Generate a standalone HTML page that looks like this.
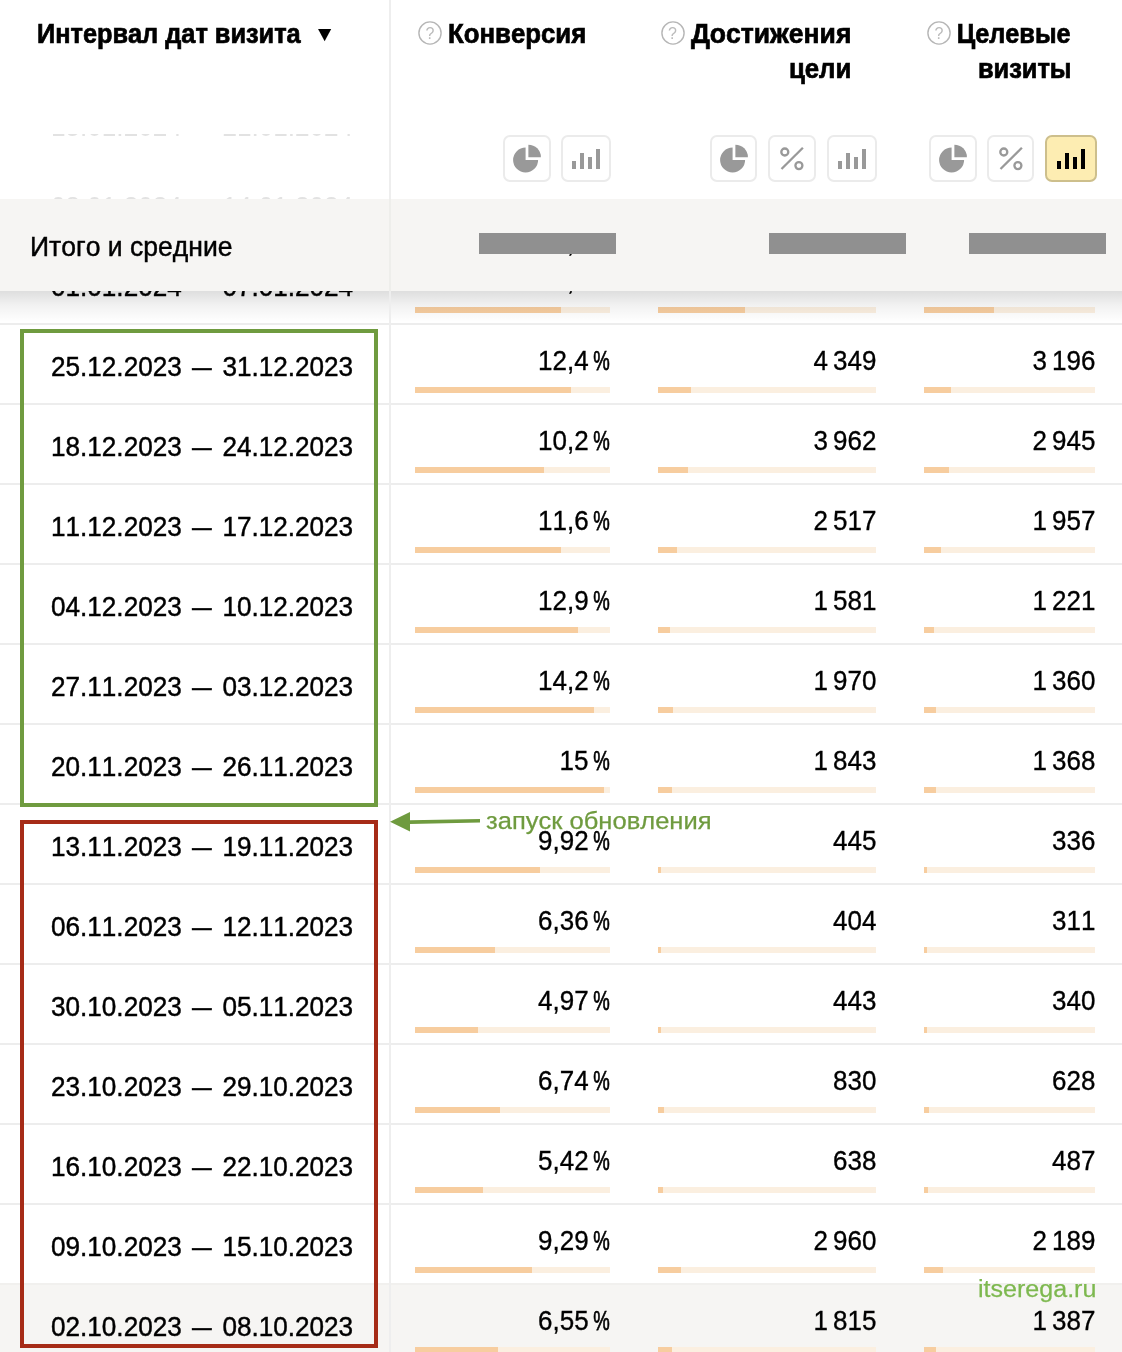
<!DOCTYPE html>
<html lang="ru"><head><meta charset="utf-8"><title>Интервал дат визита</title>
<style>
html,body{margin:0;padding:0;background:#fff;}
body{font-kerning:none;width:1122px;height:1352px;position:relative;overflow:hidden;font-family:"Liberation Sans",sans-serif;color:#000;}
.abs{position:absolute;}
.row{position:absolute;left:0;width:1122px;height:80px;}
.row .ln{position:absolute;left:0;top:-1px;width:1122px;height:2px;background:#ededed;}
.d{position:absolute;left:51.3px;top:28.4px;font-size:27.3px;line-height:30px;white-space:nowrap;transform:scaleX(.957);transform-origin:0 50%;-webkit-text-stroke:.45px #000;}
.d b{display:inline-block;font-weight:normal;transform:scaleX(.755);}
.n{position:absolute;top:21.9px;font-size:27.8px;line-height:30px;white-space:nowrap;text-align:right;transform:scaleX(.935);transform-origin:100% 50%;-webkit-text-stroke:.35px #000;}
.n1{right:511.7px;}.n2{right:246px;}.n3{right:27px;}
.pc{display:inline-block;width:18.2px;margin-left:5.3px;}
.pc i{display:inline-block;font-style:normal;transform:scaleX(.714);transform-origin:0 50%;-webkit-text-stroke:.75px #000;}
.b{position:absolute;top:63px;height:6px;background:#fbefe0;}
.b i{position:absolute;left:0;top:0;height:6px;background:#f7cd9f;}
.b1{left:415px;width:195px;}.b2{left:658px;width:218px;}.b3{left:924px;width:171px;}
.hov{background:#f6f5f3;}.hov .ln{background:#f1f0ee;}
.vline{position:absolute;left:389px;top:0;width:2px;height:1352px;background:#eeeeee;}
.h{position:absolute;font-weight:bold;font-size:27px;line-height:36px;white-space:nowrap;-webkit-text-stroke:.7px #000;}
.q{position:absolute;width:24px;height:24px;color:#bbb;font-size:16px;line-height:26px;text-align:center;}
.q svg{position:absolute;left:0;top:0;}
.btn{position:absolute;top:135px;height:43px;border:2px solid #ebebeb;border-radius:7px;background:#fff;}
.btn svg{position:absolute;left:0;top:0;}
.btn.act{background:#fdedb2;border-color:#cdbf8c;}
</style></head><body>
<div class="row" style="top:324px"><div class="ln"></div><div class="d">25.12.2023 <b>—</b> 31.12.2023</div><div class="n n1">12,4<span class="pc"><i>%</i></span></div><div class="b b1"><i style="width:156px"></i></div><div class="n n2">4 349</div><div class="b b2"><i style="width:33px"></i></div><div class="n n3">3 196</div><div class="b b3"><i style="width:27px"></i></div></div>
<div class="row" style="top:404px"><div class="ln"></div><div class="d">18.12.2023 <b>—</b> 24.12.2023</div><div class="n n1">10,2<span class="pc"><i>%</i></span></div><div class="b b1"><i style="width:129px"></i></div><div class="n n2">3 962</div><div class="b b2"><i style="width:30px"></i></div><div class="n n3">2 945</div><div class="b b3"><i style="width:25px"></i></div></div>
<div class="row" style="top:484px"><div class="ln"></div><div class="d">11.12.2023 <b>—</b> 17.12.2023</div><div class="n n1">11,6<span class="pc"><i>%</i></span></div><div class="b b1"><i style="width:146px"></i></div><div class="n n2">2 517</div><div class="b b2"><i style="width:19px"></i></div><div class="n n3">1 957</div><div class="b b3"><i style="width:17px"></i></div></div>
<div class="row" style="top:564px"><div class="ln"></div><div class="d">04.12.2023 <b>—</b> 10.12.2023</div><div class="n n1">12,9<span class="pc"><i>%</i></span></div><div class="b b1"><i style="width:163px"></i></div><div class="n n2">1 581</div><div class="b b2"><i style="width:12px"></i></div><div class="n n3">1 221</div><div class="b b3"><i style="width:10px"></i></div></div>
<div class="row" style="top:644px"><div class="ln"></div><div class="d">27.11.2023 <b>—</b> 03.12.2023</div><div class="n n1">14,2<span class="pc"><i>%</i></span></div><div class="b b1"><i style="width:179px"></i></div><div class="n n2">1 970</div><div class="b b2"><i style="width:15px"></i></div><div class="n n3">1 360</div><div class="b b3"><i style="width:12px"></i></div></div>
<div class="row" style="top:724px"><div class="ln"></div><div class="d">20.11.2023 <b>—</b> 26.11.2023</div><div class="n n1">15<span class="pc"><i>%</i></span></div><div class="b b1"><i style="width:189px"></i></div><div class="n n2">1 843</div><div class="b b2"><i style="width:14px"></i></div><div class="n n3">1 368</div><div class="b b3"><i style="width:12px"></i></div></div>
<div class="row" style="top:804px"><div class="ln"></div><div class="d">13.11.2023 <b>—</b> 19.11.2023</div><div class="n n1">9,92<span class="pc"><i>%</i></span></div><div class="b b1"><i style="width:125px"></i></div><div class="n n2">445</div><div class="b b2"><i style="width:3px"></i></div><div class="n n3">336</div><div class="b b3"><i style="width:3px"></i></div></div>
<div class="row" style="top:884px"><div class="ln"></div><div class="d">06.11.2023 <b>—</b> 12.11.2023</div><div class="n n1">6,36<span class="pc"><i>%</i></span></div><div class="b b1"><i style="width:80px"></i></div><div class="n n2">404</div><div class="b b2"><i style="width:3px"></i></div><div class="n n3">311</div><div class="b b3"><i style="width:3px"></i></div></div>
<div class="row" style="top:964px"><div class="ln"></div><div class="d">30.10.2023 <b>—</b> 05.11.2023</div><div class="n n1">4,97<span class="pc"><i>%</i></span></div><div class="b b1"><i style="width:63px"></i></div><div class="n n2">443</div><div class="b b2"><i style="width:3px"></i></div><div class="n n3">340</div><div class="b b3"><i style="width:3px"></i></div></div>
<div class="row" style="top:1044px"><div class="ln"></div><div class="d">23.10.2023 <b>—</b> 29.10.2023</div><div class="n n1">6,74<span class="pc"><i>%</i></span></div><div class="b b1"><i style="width:85px"></i></div><div class="n n2">830</div><div class="b b2"><i style="width:6px"></i></div><div class="n n3">628</div><div class="b b3"><i style="width:5px"></i></div></div>
<div class="row" style="top:1124px"><div class="ln"></div><div class="d">16.10.2023 <b>—</b> 22.10.2023</div><div class="n n1">5,42<span class="pc"><i>%</i></span></div><div class="b b1"><i style="width:68px"></i></div><div class="n n2">638</div><div class="b b2"><i style="width:5px"></i></div><div class="n n3">487</div><div class="b b3"><i style="width:4px"></i></div></div>
<div class="row" style="top:1204px"><div class="ln"></div><div class="d">09.10.2023 <b>—</b> 15.10.2023</div><div class="n n1">9,29<span class="pc"><i>%</i></span></div><div class="b b1"><i style="width:117px"></i></div><div class="n n2">2 960</div><div class="b b2"><i style="width:23px"></i></div><div class="n n3">2 189</div><div class="b b3"><i style="width:19px"></i></div></div>
<div class="row hov" style="top:1284px"><div class="ln"></div><div class="d">02.10.2023 <b>—</b> 08.10.2023</div><div class="n n1">6,55<span class="pc"><i>%</i></span></div><div class="b b1"><i style="width:83px"></i></div><div class="n n2">1 815</div><div class="b b2"><i style="width:14px"></i></div><div class="n n3">1 387</div><div class="b b3"><i style="width:12px"></i></div></div>
<!-- partially hidden row above -->
<div class="row" style="top:244px"><div class="d">01.01.2024 <b>—</b> 07.01.2024</div>
<div class="n n1">11,5<span class="pc"><i>%</i></span></div><div class="b b1"><i style="width:146px"></i></div>
<div class="n n2">11 862</div><div class="b b2"><i style="width:87px"></i></div>
<div class="n n3">8 421</div><div class="b b3"><i style="width:70px"></i></div></div>
<!-- shadow under totals -->
<div class="abs" style="left:0;top:291px;width:1122px;height:31px;background:linear-gradient(to bottom,rgba(0,0,0,.13),rgba(0,0,0,.055) 45%,rgba(0,0,0,0));"></div>
<div class="vline"></div>
<!-- header white cover -->
<div class="abs" style="left:0;top:0;width:389px;height:199px;background:#fff;"></div>
<div class="abs" style="left:391px;top:0;width:731px;height:199px;background:#fff;"></div>
<!-- faint remnants of scrolled rows -->
<div class="abs" style="left:0;top:134px;width:389px;height:2px;overflow:hidden;"><div class="d" style="top:-21.6px;color:#e2e2e2;-webkit-text-stroke:0;">15.01.2024 <b>—</b> 21.01.2024</div></div>
<div class="abs" style="left:0;top:197px;width:389px;height:3px;overflow:hidden;"><div class="d" style="top:-4.6px;color:#e2e2e2;-webkit-text-stroke:0;">08.01.2024 <b>—</b> 14.01.2024</div></div>
<!-- totals bar -->
<div class="abs" style="left:0;top:199px;width:1122px;height:92px;background:#f6f5f3;"></div>
<div class="abs" style="left:389px;top:199px;width:2px;height:92px;background:#eeeeeb;"></div>
<div class="abs" style="left:29.7px;top:228.7px;font-size:27px;line-height:36px;white-space:nowrap;transform:scaleX(.983);transform-origin:0 50%;-webkit-text-stroke:.45px #000;">Итого и средние</div>
<div class="abs" style="left:0;top:254px;width:1122px;height:8px;overflow:hidden;"><div class="n n1" style="top:-26px;">10,1<span class="pc"><i>%</i></span></div></div>
<div class="abs" style="left:479px;top:233px;width:137px;height:21px;background:#909090;"></div>
<div class="abs" style="left:769px;top:233px;width:137px;height:21px;background:#909090;"></div>
<div class="abs" style="left:969px;top:233px;width:137px;height:21px;background:#909090;"></div>
<!-- header titles -->
<div class="h" style="left:36.5px;top:16px;transform:scaleX(.938);transform-origin:0 50%;">Интервал дат визита</div>
<div class="abs" style="left:313.5px;top:21.7px;font-size:22.5px;line-height:24px;transform:scaleY(.94);transform-origin:50% 50%;">▼</div>
<div class="q" style="left:418px;top:21px;"><svg width="24" height="24" viewBox="0 0 24 24"><circle cx="12" cy="12" r="11.1" fill="none" stroke="#b6b6b6" stroke-width="1.4"/></svg>?</div>
<div class="h" style="left:447.5px;top:16px;transform:scaleX(.955);transform-origin:0 50%;">Конверсия</div>
<div class="q" style="left:660.5px;top:21px;"><svg width="24" height="24" viewBox="0 0 24 24"><circle cx="12" cy="12" r="11.1" fill="none" stroke="#b6b6b6" stroke-width="1.4"/></svg>?</div>
<div class="h" style="right:270.6px;top:16px;transform:scaleX(.982);transform-origin:100% 50%;">Достижения</div>
<div class="h" style="right:270.6px;top:51.2px;transform:scaleX(.956);transform-origin:100% 50%;">цели</div>
<div class="q" style="left:927px;top:21px;"><svg width="24" height="24" viewBox="0 0 24 24"><circle cx="12" cy="12" r="11.1" fill="none" stroke="#b6b6b6" stroke-width="1.4"/></svg>?</div>
<div class="h" style="right:51px;top:16px;transform:scaleX(.937);transform-origin:100% 50%;">Целевые</div>
<div class="h" style="right:51px;top:51.2px;transform:scaleX(.94);transform-origin:100% 50%;">визиты</div>
<!-- buttons -->
<div class="btn" style="left:503px;width:44px;"><svg width="43" height="43" viewBox="0 0 43 43"><path d="M20.6 10.5A12.5 12.5 0 1 0 33.1 23H20.6Z" fill="#999"/><path d="M23.4 7.7A12.5 12.5 0 0 1 35.9 20.2H23.4Z" fill="#999"/></svg></div>
<div class="btn" style="left:561px;width:46px;"><svg width="45" height="43" viewBox="0 0 45 43"><path d="M9 24h4v8H9zM17 16h4v16h-4zM25 20h4v12h-4zM33 12h4v20h-4z" fill="#999"/></svg></div>
<div class="btn" style="left:710px;width:43px;"><svg width="43" height="43" viewBox="0 0 43 43"><path d="M20.6 10.5A12.5 12.5 0 1 0 33.1 23H20.6Z" fill="#999"/><path d="M23.4 7.7A12.5 12.5 0 0 1 35.9 20.2H23.4Z" fill="#999"/></svg></div>
<div class="btn" style="left:768px;width:44px;"><svg width="44" height="43" viewBox="0 0 44 43"><g fill="none" stroke="#999" stroke-width="2.3"><circle cx="14.8" cy="15" r="3.5"/><circle cx="28.9" cy="28.6" r="3.5"/><path d="M32.9 10.8L11.5 32"/></g></svg></div>
<div class="btn" style="left:827px;width:46px;"><svg width="46" height="43" viewBox="0 0 46 43"><path d="M9 24h4v8H9zM17 16h4v16h-4zM25 20h4v12h-4zM33 12h4v20h-4z" fill="#999"/></svg></div>
<div class="btn" style="left:929px;width:44px;"><svg width="43" height="43" viewBox="0 0 43 43"><path d="M20.6 10.5A12.5 12.5 0 1 0 33.1 23H20.6Z" fill="#999"/><path d="M23.4 7.7A12.5 12.5 0 0 1 35.9 20.2H23.4Z" fill="#999"/></svg></div>
<div class="btn" style="left:987px;width:43px;"><svg width="44" height="43" viewBox="0 0 44 43"><g fill="none" stroke="#999" stroke-width="2.3"><circle cx="14.8" cy="15" r="3.5"/><circle cx="28.9" cy="28.6" r="3.5"/><path d="M32.9 10.8L11.5 32"/></g></svg></div>
<div class="btn act" style="left:1045px;width:48px;"><svg width="47" height="43" viewBox="0 0 47 43"><path d="M10 24h4v8h-4zM18 16h4v16h-4zM26 20h4v12h-4zM34 12h4v20h-4z" fill="#000"/></svg></div>
<!-- annotation boxes -->
<div class="abs" style="left:20px;top:329px;width:350px;height:470px;border:4px solid #6f9b3f;"></div>
<div class="abs" style="left:20px;top:820px;width:350px;height:520px;border:4px solid #a62b17;"></div>
<svg class="abs" style="left:385px;top:805px;" width="110" height="34" viewBox="0 0 110 34"><path d="M5 16.8L25 7V15.3L95 13.9V17.6L25 18.9V26.6Z" fill="#6f9b3f"/></svg>
<div class="abs" style="left:486px;top:805.6px;font-size:24.3px;line-height:30px;color:#6f9b3f;white-space:nowrap;transform:scaleX(1.051);transform-origin:0 50%;-webkit-text-stroke:.25px #6f9b3f;">запуск обновления</div>
<div class="abs" style="left:978px;top:1274px;font-size:24.7px;line-height:30px;color:#7db84f;white-space:nowrap;transform:scaleX(1.015);transform-origin:0 50%;-webkit-text-stroke:.25px #7db84f;">itserega.ru</div>
</body></html>
